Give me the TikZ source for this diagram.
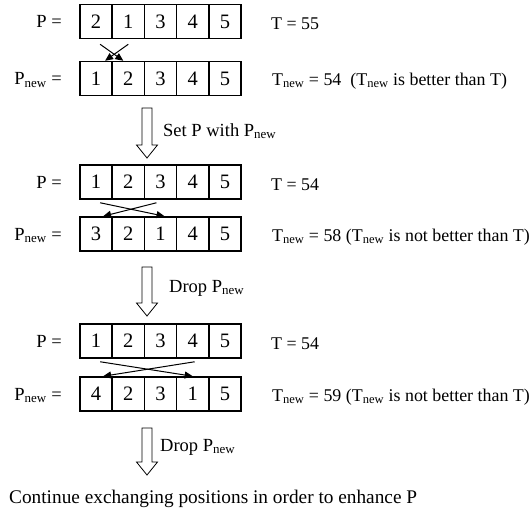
\documentclass[tikz,border=0pt]{standalone}
\usepackage{fontspec}
\setmainfont{Liberation Serif}
\usetikzlibrary{arrows.meta,positioning}
\tikzset{
  cell/.style={draw,line width=1.5pt,minimum width=32.2pt,minimum height=34pt,inner sep=0pt,font=\fontsize{20.5}{24}\selectfont},
  lbl/.style={inner sep=0pt,text height=12.3pt,text depth=0pt,font=\fontsize{18.5}{22}\selectfont},
  cost/.style={lbl,font=\fontsize{17.9}{22}\selectfont},
  swaparrow/.style={-{Triangle[length=8pt,width=7pt]},line width=1pt},
  hollow/.style={draw,line width=0.8pt}
}
\newcommand{\nw}{\textsubscript{new}}

\begin{document}
\begin{tikzpicture}[x=1pt,y=-1pt]
\useasboundingbox (0,0) rectangle (531,515);

% the six arrays
\foreach \v [count=\i] in {2,1,3,4,5}
  \node[cell] (p1-\i) at (63.9+32.2*\i,21.5) {\v};
\foreach \v [count=\i] in {1,2,3,4,5}
  \node[cell] (n1-\i) at (63.9+32.2*\i,78.5) {\v};
\foreach \v [count=\i] in {1,2,3,4,5}
  \node[cell] (p2-\i) at (63.9+32.2*\i,182) {\v};
\foreach \v [count=\i] in {3,2,1,4,5}
  \node[cell] (n2-\i) at (63.9+32.2*\i,234) {\v};
\foreach \v [count=\i] in {1,2,3,4,5}
  \node[cell] (p3-\i) at (63.9+32.2*\i,341) {\v};
\foreach \v [count=\i] in {4,2,3,1,5}
  \node[cell] (n3-\i) at (63.9+32.2*\i,394) {\v};

% left labels
\node[lbl,anchor=east] (lp1) at (62,21.5) {P =};
\node[lbl,anchor=east] (ln1) at (62,78.5) {P\nw{} =};
\node[lbl,anchor=east] (lp2) at (62,182) {P =};
\node[lbl,anchor=east] (ln2) at (62,234) {P\nw{} =};
\node[lbl,anchor=east] (lp3) at (62,341) {P =};
\node[lbl,anchor=east] (ln3) at (62,394) {P\nw{} =};

% costs
\node[cost,anchor=west] (t1) at (271,23) {T = 55};
\node[cost,anchor=west] (tn1) at (272,79) {T\nw{} = 54\ \ (T\nw{} is better than T)};
\node[cost,anchor=west] (t2) at (271,184) {T = 54};
\node[cost,anchor=west] (tn2) at (272,235) {T\nw{} = 58 (T\nw{} is not better than T)};
\node[cost,anchor=west] (t3) at (271,343) {T = 54};
\node[cost,anchor=west] (tn3) at (272,395) {T\nw{} = 59 (T\nw{} is not better than T)};

% exchanges
\draw[swaparrow] ([xshift=4pt,yshift=-5pt]p1-1.south) -- ([xshift=-5pt]n1-2.north);
\draw[swaparrow] ([yshift=-5pt]p1-2.south) -- ([xshift=9pt]n1-1.north);
\draw[swaparrow] ([xshift=4pt,yshift=-3pt]p2-1.south) -- ([xshift=4pt]n2-3.north);
\draw[swaparrow] ([xshift=-4pt,yshift=-3pt]p2-3.south) -- ([xshift=7pt]n2-1.north);
\draw[swaparrow] ([xshift=4pt,yshift=-3pt]p3-1.south) -- (n3-4.north);
\draw[swaparrow] ([xshift=2pt,yshift=-3pt]p3-4.south) -- ([xshift=7pt]n3-1.north);

% steps
\foreach \n/\t/\b in {1/108/145, 2/267/303, 3/428/462}{
  \coordinate (g\n) at (147,\t);
  \draw[hollow] (g\n) ++(-5,0) -- ++(10,0) -- (152,\b) -- (157.5,\b)
    -- (147,\b+13) -- (136.5,\b) -- (142,\b) -- cycle;
}
\node[lbl,anchor=west] (m1) at (163,130) {Set P with P\nw};
\node[lbl,anchor=west] (m2) at (169,286) {Drop P\nw};
\node[lbl,anchor=west] (m3) at (160,445) {Drop P\nw};

\node[lbl,anchor=west,font=\fontsize{19.3}{22}\selectfont] (cont) at (9,497) {Continue exchanging positions in order to enhance P};
\end{tikzpicture}
\end{document}
